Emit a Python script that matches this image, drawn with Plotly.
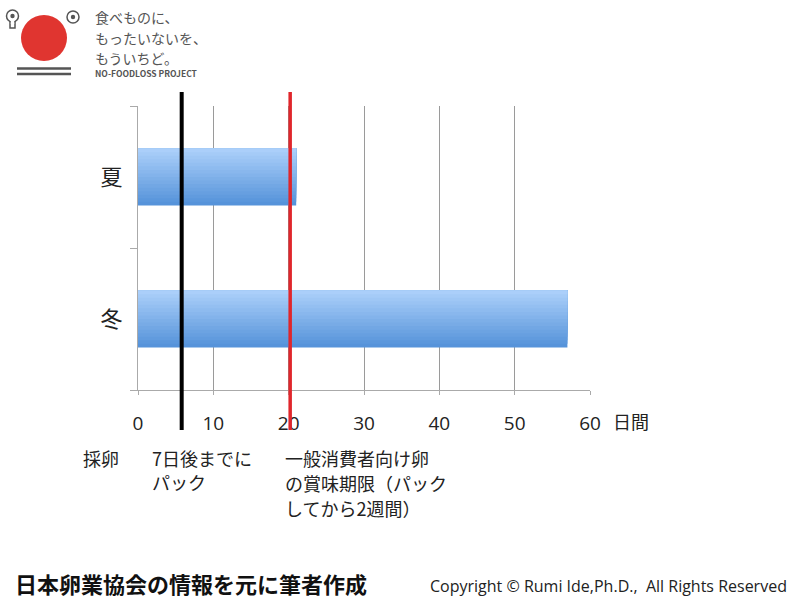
import plotly.graph_objects as go

# ---- data ----
categories = ["冬", "夏"]
days = [57, 21]
x_ticks = [0, 10, 20, 30, 40, 50, 60]
marker_days = [5.8, 20.2]          # black: packing, red: best-before
marker_colors = ["#000000", "#e0262b"]

W, H = 799, 601
L, R, T, B = 138, 590, 106, 390
PW, PH = R - L, B - T

def px(x):
    return (x - L) / PW

def py(y):
    return (B - y) / PH

FONT = "Noto Sans CJK JP"
fig = go.Figure()

# gradient bars as layered, overlapping slices (all share the top edge)
N = 16
bw = 0.4
top = (0xab, 0xcf, 0xfa)
bot = (0x56, 0x93, 0xda)
for i in range(N):
    t = i / (N - 1)  # 0 bottom -> 1 top
    c = tuple(int(bot[k] + (top[k] - bot[k]) * t) for k in range(3))
    fig.add_trace(go.Bar(
        x=days, y=categories, orientation="h",
        width=bw - i * bw / N, offset=-bw / 2 + i * bw / N,
        marker=dict(color="rgb(%d,%d,%d)" % c, line=dict(width=0)),
        showlegend=False, hoverinfo="skip",
    ))

shapes = []
for d, col in zip(marker_days, marker_colors):
    shapes.append(dict(type="line", xref="x", yref="paper", x0=d, x1=d,
                       y0=py(430), y1=py(92),
                       line=dict(color=col, width=4 if col == "#000000" else 3.5)))

# logo
shapes += [
    dict(type="circle", xref="paper", yref="paper", x0=px(21), x1=px(67),
         y0=py(61), y1=py(15), fillcolor="#e03530", line=dict(width=0)),
    # left pin icon
    dict(type="rect", xref="paper", yref="paper", x0=px(10), x1=px(15),
         y0=py(28), y1=py(18), fillcolor="white", line=dict(color="#555", width=1.5)),
    dict(type="circle", xref="paper", yref="paper", x0=px(6.5), x1=px(18.5),
         y0=py(22), y1=py(10), fillcolor="white", line=dict(color="#555", width=1.5)),
    dict(type="rect", xref="paper", yref="paper", x0=px(10.8), x1=px(14.2),
         y0=py(24), y1=py(18), fillcolor="white", line=dict(width=0)),
    dict(type="circle", xref="paper", yref="paper", x0=px(10.3), x1=px(14.7),
         y0=py(18.2), y1=py(13.8), fillcolor="#555", line=dict(width=0)),
    # right icon
    dict(type="circle", xref="paper", yref="paper", x0=px(67), x1=px(79),
         y0=py(23), y1=py(11), fillcolor="white", line=dict(color="#555", width=1.5)),
    dict(type="circle", xref="paper", yref="paper", x0=px(70.8), x1=px(75.2),
         y0=py(19.2), y1=py(14.8), fillcolor="#555", line=dict(width=0)),
    # lines
    dict(type="line", xref="paper", yref="paper", x0=px(17), x1=px(71),
         y0=py(68.5), y1=py(68.5), line=dict(color="#555", width=2.5)),
    dict(type="line", xref="paper", yref="paper", x0=px(17), x1=px(71),
         y0=py(74), y1=py(74), line=dict(color="#555", width=2.5)),
]

ann = []
def text(x, y, s, size, color="#222", xanchor="left", yanchor="middle", family=FONT):
    ann.append(dict(x=px(x), y=py(y), xref="paper", yref="paper", text=s,
                    showarrow=False, xanchor=xanchor, yanchor=yanchor,
                    font=dict(size=size, color=color, family=family), align="left"))

text(93, 17, "食べものに、", 14, "#555")
text(93, 38, "もったいないを、", 14, "#555")
text(93, 58, "もういちど。", 14, "#555")
text(93, 73, "<b>NO-FOODLOSS PROJECT</b>", 8.5, "#555")

text(611, 421, "日間", 18)
text(81, 458, "採卵", 18)
text(150, 458, "7日後までに", 18)
text(150, 482, "パック", 18)
text(283, 458, "一般消費者向け卵", 18)
text(283, 483, "の賞味期限（パック", 18)
text(283, 508, "してから2週間）", 18)

text(13, 583, "<b>日本卵業協会の情報を元に筆者作成</b>", 22, "#111")
text(428, 586, "Copyright © Rumi Ide,Ph.D.,  All Rights Reserved", 16, "#222",
     family="Open Sans")

fig.update_layout(
    width=W, height=H,
    margin=dict(l=L, r=W - R, t=T, b=H - B),
    paper_bgcolor="white", plot_bgcolor="white",
    barmode="overlay",
    shapes=shapes, annotations=ann,
    font=dict(family=FONT, color="#222"),
    xaxis=dict(range=[0, 60], tickvals=x_ticks, showgrid=True, gridcolor="#9a9a9a",
               gridwidth=1, showline=True, linecolor="#aaaaaa", linewidth=1,
               ticks="outside", ticklen=4, tickcolor="#aaaaaa", zeroline=False,
               tickfont=dict(size=19, color="#222", family="Open Sans"),
               ticklabelstandoff=12, fixedrange=True),
    yaxis=dict(categoryorder="array", categoryarray=categories, showgrid=False,
               showline=True, linecolor="#aaaaaa", linewidth=1, ticks="outside",
               ticklen=7, tickcolor="#aaaaaa", tickson="boundaries",
               tickfont=dict(size=22, color="#222"), ticklabelstandoff=10,
               zeroline=False),
)

fig.write_html("out.html", config={"displayModeBar": False},
               post_script="document.body.style.margin='0';")
